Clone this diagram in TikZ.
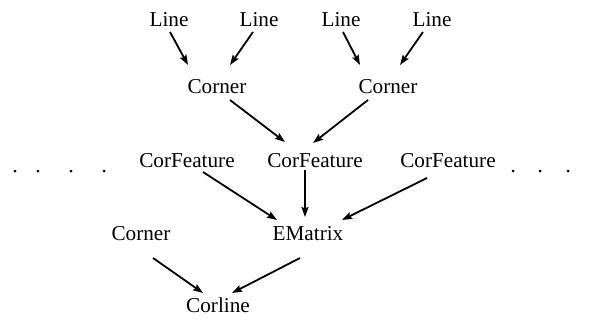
\documentclass[tikz,border=0pt]{standalone}
\usepackage{fontspec}
\setmainfont{Liberation Serif}
\usetikzlibrary{arrows.meta,calc}
\begin{document}
\begin{tikzpicture}[x=1pt,y=-1pt,
  lbl/.style={inner sep=0pt,font=\fontsize{21.2}{24}\selectfont},
  arr/.style={line width=1.8pt,-{Stealth[length=10pt,width=7pt,inset=1.5pt]}},
  dotmark/.style={fill=black}]
\useasboundingbox (0,0) rectangle (602,329);
% top row
\node[lbl] (l1) at (169,20) {Line};
\node[lbl] (l2) at (259,20) {Line};
\node[lbl] (l3) at (341,20) {Line};
\node[lbl] (l4) at (432,20) {Line};
% corners
\node[lbl] (c1) at (217,87) {Corner};
\node[lbl] (c2) at (388,87) {Corner};
% features
\node[lbl] (f1) at (187,161) {CorFeature};
\node[lbl] (f2) at (315,161) {CorFeature};
\node[lbl] (f3) at (448,161) {CorFeature};
% bottom part
\node[lbl] (c3) at (141,234) {Corner};
\node[lbl] (em) at (308,234) {EMatrix};
\node[lbl] (cl) at (218,305) {Corline};
% ellipses on either side of the feature row
\foreach \x in {15,38,71,104,513,540,568}
  \fill[dotmark] (\x,171) circle (1.5);
% connectors
\draw[arr] ($(l1)+(1,12)$)   -- ($(c1)+(-29,-22)$);
\draw[arr] ($(l2)+(-6,12)$)  -- ($(c1)+(13,-22)$);
\draw[arr] ($(l3)+(2,12)$)   -- ($(c2)+(-28,-22)$);
\draw[arr] ($(l4)+(-9,12)$)  -- ($(c2)+(12,-22)$);
\draw[arr] ($(c1)+(13,13)$)  -- ($(f2)+(-30,-19)$);
\draw[arr] ($(c2)+(-20,13)$) -- ($(f2)+(-2,-18)$);
\draw[arr] ($(f1)+(16,11)$)  -- ($(em)+(-31,-14)$);
\draw[arr] ($(f2)+(-10,9)$)  -- ($(em)+(-3,-17)$);
\draw[arr] ($(f3)+(-21,17)$) -- ($(em)+(34,-14)$);
\draw[arr] ($(c3)+(12,24)$)  -- ($(cl)+(-15,-12)$);
\draw[arr] ($(em)+(-8,24)$)  -- ($(cl)+(14,-12)$);
\end{tikzpicture}
\end{document}
